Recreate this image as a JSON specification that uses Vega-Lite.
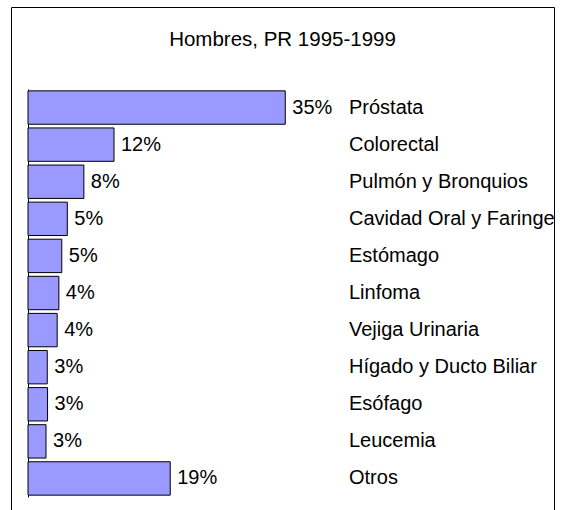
{
  "$schema": "https://vega.github.io/schema/vega-lite/v6.json",
  "width": 543,
  "height": 503,
  "autosize": {"type": "none"},
  "padding": {"left": 11, "top": 7, "right": 11, "bottom": 0},
  "background": "white",
  "config": {
    "view": {"stroke": "black", "strokeWidth": 1},
    "font": "Liberation Sans"
  },
  "title": {
    "text": "Hombres, PR 1995-1999",
    "font": "Liberation Sans",
    "fontSize": 20.5,
    "fontWeight": "normal",
    "color": "black",
    "anchor": "middle",
    "frame": "group",
    "baseline": "alphabetic",
    "offset": -59
  },
  "data": {
    "values": [
      {"cat": "Próstata", "val": 35.0, "lbl": "35%"},
      {"cat": "Colorectal", "val": 11.7, "lbl": "12%"},
      {"cat": "Pulmón y Bronquios", "val": 7.6, "lbl": "8%"},
      {"cat": "Cavidad Oral y Faringe", "val": 5.35, "lbl": "5%"},
      {"cat": "Estómago", "val": 4.6, "lbl": "5%"},
      {"cat": "Linfoma", "val": 4.2, "lbl": "4%"},
      {"cat": "Vejiga Urinaria", "val": 3.97, "lbl": "4%"},
      {"cat": "Hígado y Ducto Biliar", "val": 2.62, "lbl": "3%"},
      {"cat": "Esófago", "val": 2.66, "lbl": "3%"},
      {"cat": "Leucemia", "val": 2.45, "lbl": "3%"},
      {"cat": "Otros", "val": 19.35, "lbl": "19%"}
    ]
  },
  "encoding": {
    "y": {
      "field": "cat",
      "type": "nominal",
      "sort": null,
      "scale": {"range": [82, 490], "paddingInner": 0.1, "paddingOuter": 0.05}
    },
    "x": {
      "field": "val",
      "type": "quantitative",
      "scale": {"domain": [0, 71.56], "rangeMin": 17, "nice": false, "zero": true},
      "axis": null
    }
  },
  "layer": [
    {
      "mark": {"type": "bar", "fill": "#9999FF", "stroke": "black", "strokeWidth": 1},
      "encoding": {
        "y": {
          "field": "cat",
          "type": "nominal",
          "sort": null,
          "axis": {
            "orient": "left",
            "offset": -17,
            "labels": false,
            "ticks": false,
            "tickSize": 0,
            "domain": true,
            "domainColor": "black",
            "domainWidth": 1,
            "grid": false,
            "title": null
          }
        }
      }
    },
    {
      "mark": {"type": "text", "align": "left", "baseline": "middle", "dx": 7, "fontSize": 20, "color": "black", "font": "Liberation Sans"},
      "encoding": {
        "text": {"field": "lbl"},
        "y": {
          "field": "cat",
          "type": "nominal",
          "sort": null,
          "axis": {
            "orient": "right",
            "offset": -205.5,
            "labels": true,
            "ticks": false,
            "tickSize": 0,
            "labelPadding": 0,
            "labelAlign": "left",
            "labelBaseline": "middle",
            "labelFont": "Liberation Sans",
            "labelFontSize": 20,
            "labelColor": "black",
            "labelLimit": 0,
            "domain": false,
            "grid": false,
            "title": null
          }
        }
      }
    }
  ],
  "resolve": {"axis": {"y": "independent"}}
}
